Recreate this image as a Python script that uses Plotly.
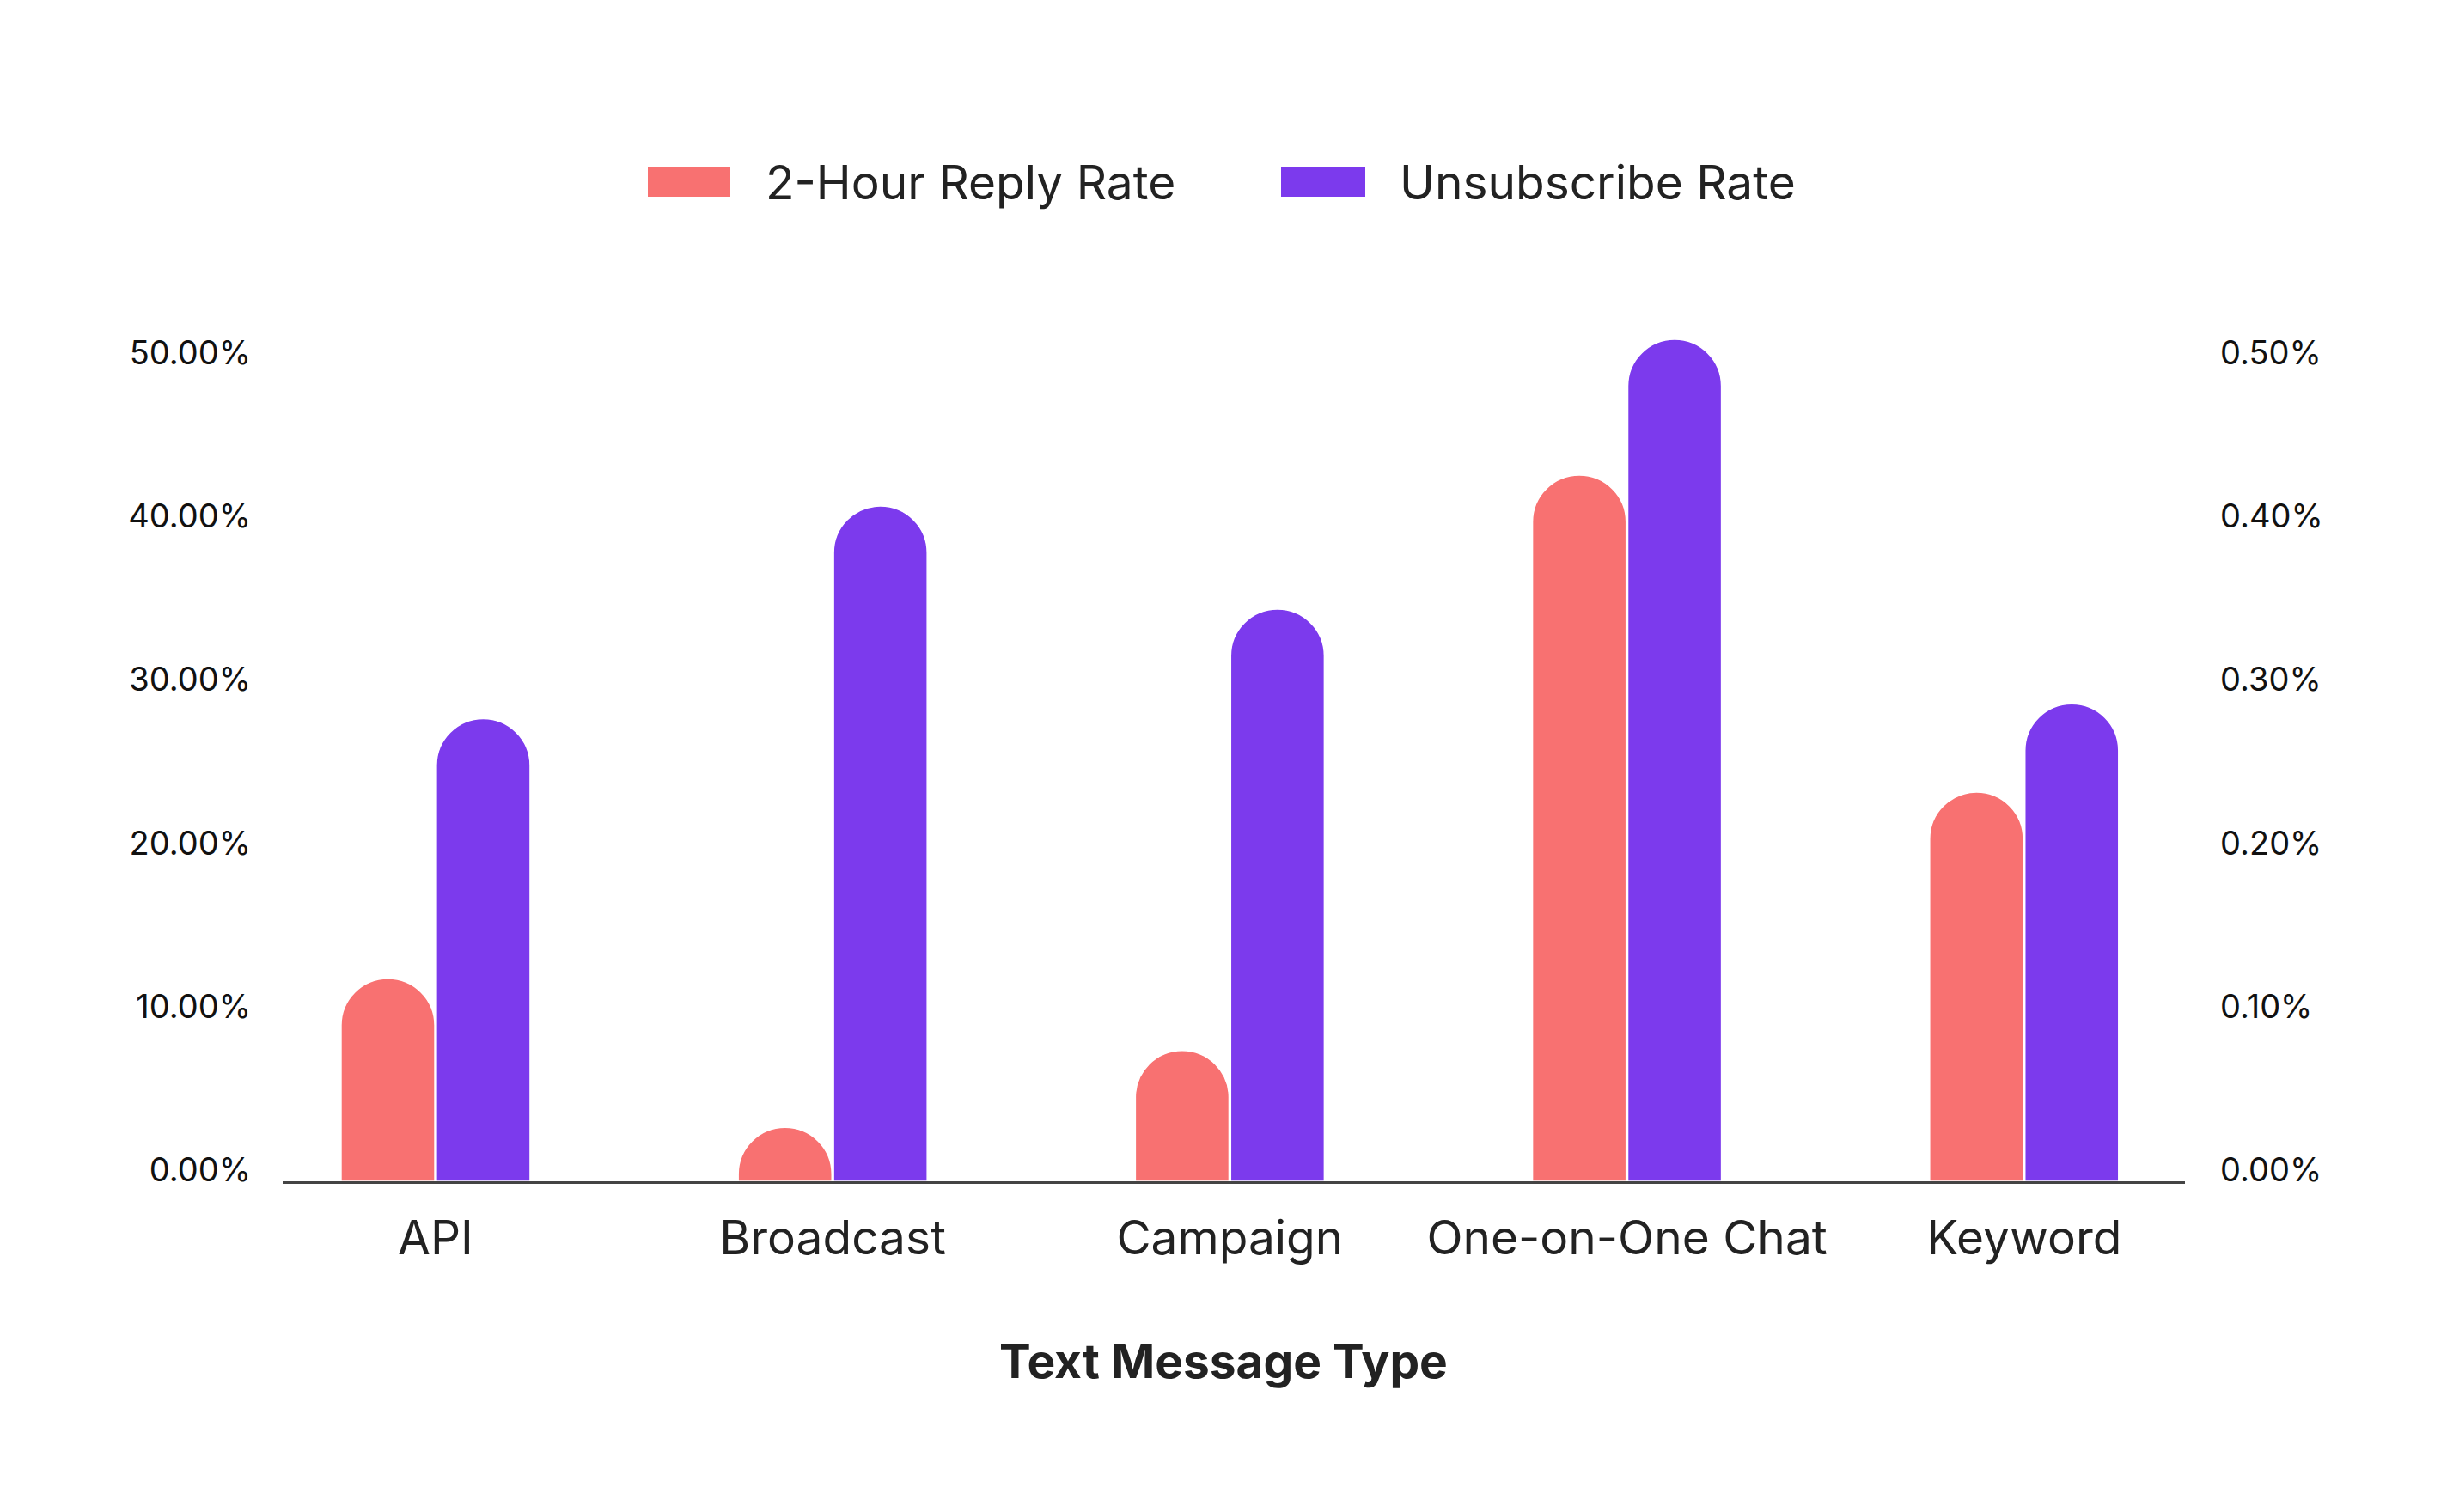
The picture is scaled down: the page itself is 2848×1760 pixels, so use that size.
import plotly.graph_objects as go

categories = ["API", "Broadcast", "Campaign", "One-on-One Chat", "Keyword"]
reply_rate = [0.124, 0.033, 0.080, 0.432, 0.238]          # left axis
unsub_rate = [0.00283, 0.00413, 0.00350, 0.00515, 0.00292]  # right axis
left_ticks = [0, 0.1, 0.2, 0.3, 0.4, 0.5]
right_ticks = [0, 0.001, 0.002, 0.003, 0.004, 0.005]
series_names = ["2-Hour Reply Rate", "Unsubscribe Rate"]
x_title = "Text Message Type"
colors = ["#F87171", "#7C3AED"]

W, H = 2848, 1760
L, R, T, B = 329, 2543, 300, 1375
FONT = "Inter, Noto Sans, sans-serif"

def px(x):
    return (x - L) / (R - L)

def py(y):
    return (B - y) / (B - T)

fig = go.Figure()
fig.add_trace(go.Bar(
    x=categories, y=reply_rate, name=series_names[0], yaxis="y",
    marker=dict(color=colors[0], cornerradius="50%", line=dict(color="white", width=1.5)),
    width=0.236, offset=-0.238, showlegend=False,
))
fig.add_trace(go.Bar(
    x=categories, y=unsub_rate, name=series_names[1], yaxis="y2",
    marker=dict(color=colors[1], cornerradius="50%", line=dict(color="white", width=1.5)),
    width=0.236, offset=0.002, showlegend=False,
))

top_left = 0.5649
fig.update_layout(
    width=W, height=H,
    margin=dict(l=L, r=W - R, t=T, b=H - B),
    paper_bgcolor="white", plot_bgcolor="white",
    font=dict(family=FONT, color="#222222"),
    xaxis=dict(
        range=[-0.385, 4.405], showgrid=False, zeroline=False,
        showline=True, linecolor="#444444", linewidth=3,
        tickfont=dict(size=55, color="#222222", family=FONT),
        ticks="", ticklabelstandoff=16,
    ),
    yaxis=dict(
        range=[0, top_left], tickvals=left_ticks, tickformat=".2%",
        showgrid=False, zeroline=False, showline=False,
        tickfont=dict(size=38, color="#111111", family=FONT),
        ticklabelstandoff=36, ticklabelshift=-13,
    ),
    yaxis2=dict(
        range=[0, top_left / 100], tickvals=right_ticks, tickformat=".2%",
        overlaying="y", side="right",
        showgrid=False, zeroline=False, showline=False,
        tickfont=dict(size=38, color="#111111", family=FONT),
        ticklabelstandoff=40, ticklabelshift=-13,
    ),
    showlegend=False,
)

# x-axis title
fig.add_annotation(xref="paper", yref="paper", x=px(1424), y=py(1584),
                   text="<b>" + x_title + "</b>", showarrow=False,
                   xanchor="center", yanchor="middle",
                   font=dict(size=55, color="#222222", family=FONT))

# manual legend (large swatches)
legend_items = [(754, 850, 889), (1491, 1589, 1627)]
for (x0, x1, tx), name, col in zip(legend_items, series_names, colors):
    fig.add_shape(type="rect", xref="paper", yref="paper",
                  x0=px(x0), x1=px(x1), y0=py(229), y1=py(194),
                  fillcolor=col, line=dict(width=0))
    fig.add_annotation(xref="paper", yref="paper", x=px(tx), y=py(212),
                       text=name, showarrow=False, xanchor="left", yanchor="middle",
                       font=dict(size=55, color="#222222", family=FONT))

fig.write_html("out.html")
